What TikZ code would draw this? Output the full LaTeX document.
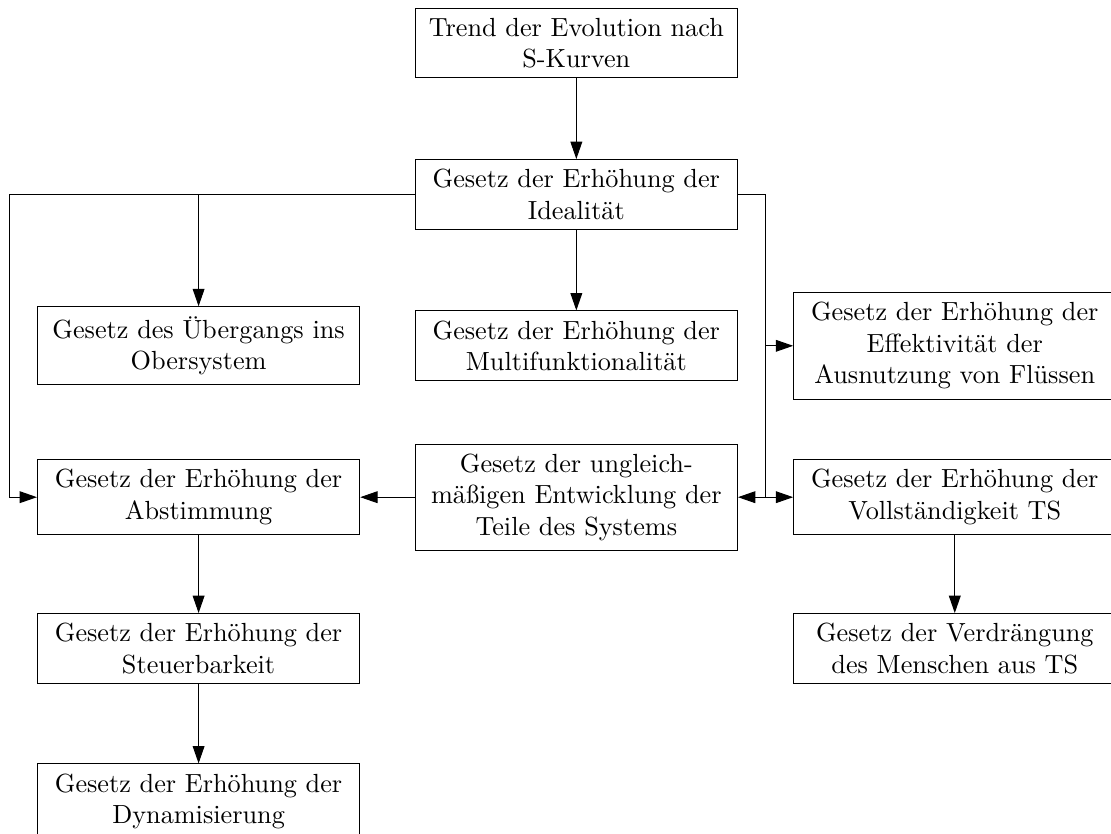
\documentclass[tikz,border=0pt]{standalone}
\usepackage{tikz}
\usetikzlibrary{arrows.meta,positioning,calc}

\begin{document}
\begin{tikzpicture}[
    law/.style={rectangle, draw, text width=4.36cm, align=center, inner sep=4pt,
        font=\fontsize{10.75}{12.9}\selectfont},
    arrow/.style={-{Triangle[length=2.5mm,width=1.7mm]}}
]
    \useasboundingbox (0,0) rectangle (16,-12);

    % Top
    \node[law] (trend) at (8.30,-0.62) {Trend der Evolution nach\\S-Kurven};
    \node[law] (ideal) at (8.30,-2.80) {Gesetz der Erhöhung der\\Idealität};

    % Third row
    \node[law] (uebergang) at (2.86,-4.98) {Gesetz des Übergangs ins\\Obersystem};
    \node[law] (multi) at (8.30,-4.98) {Gesetz der Erhöhung der\\Multifunktionalität};
    \node[law] (fluss) at (13.75,-4.98) {Gesetz der Erhöhung der\\Effektivität der\\Ausnutzung von Flüssen};

    % Fourth row
    \node[law] (abst) at (2.86,-7.16) {Gesetz der Erhöhung der\\Abstimmung};
    \node[law] (ungleich) at (8.30,-7.16) {Gesetz der ungleich-\\mäßigen Entwicklung der\\Teile des Systems};
    \node[law] (voll) at (13.75,-7.16) {Gesetz der Erhöhung der\\Vollständigkeit TS};

    % Lower rows
    \node[law] (steuer) at (2.86,-9.34) {Gesetz der Erhöhung der\\Steuerbarkeit};
    \node[law] (mensch) at (13.75,-9.34) {Gesetz der Verdrängung\\des Menschen aus TS};
    \node[law] (dynam) at (2.86,-11.54) {Gesetz der Erhöhung der\\Dynamisierung};

    % Bends
    \coordinate (lbend) at (0.14,-2.80);
    \coordinate (rbend) at (11.03,-2.80);

    % Arrows
    \draw[arrow] (trend) -- (ideal);
    \draw[arrow] (ideal) -- (multi);
    \draw[arrow] (ideal.west) -- (lbend) |- (abst.west);
    \draw[arrow] (ideal.west -| uebergang.north) -- (uebergang);
    \draw[arrow] (ideal.east) -- (rbend) |- (voll.west);
    \draw[arrow] (rbend |- fluss.west) -- (fluss.west);
    \draw[arrow] (rbend |- ungleich.east) -- (ungleich.east);
    \draw[arrow] (ungleich) -- (abst);
    \draw[arrow] (abst) -- (steuer);
    \draw[arrow] (steuer) -- (dynam);
    \draw[arrow] (voll) -- (mensch);
\end{tikzpicture}
\end{document}
